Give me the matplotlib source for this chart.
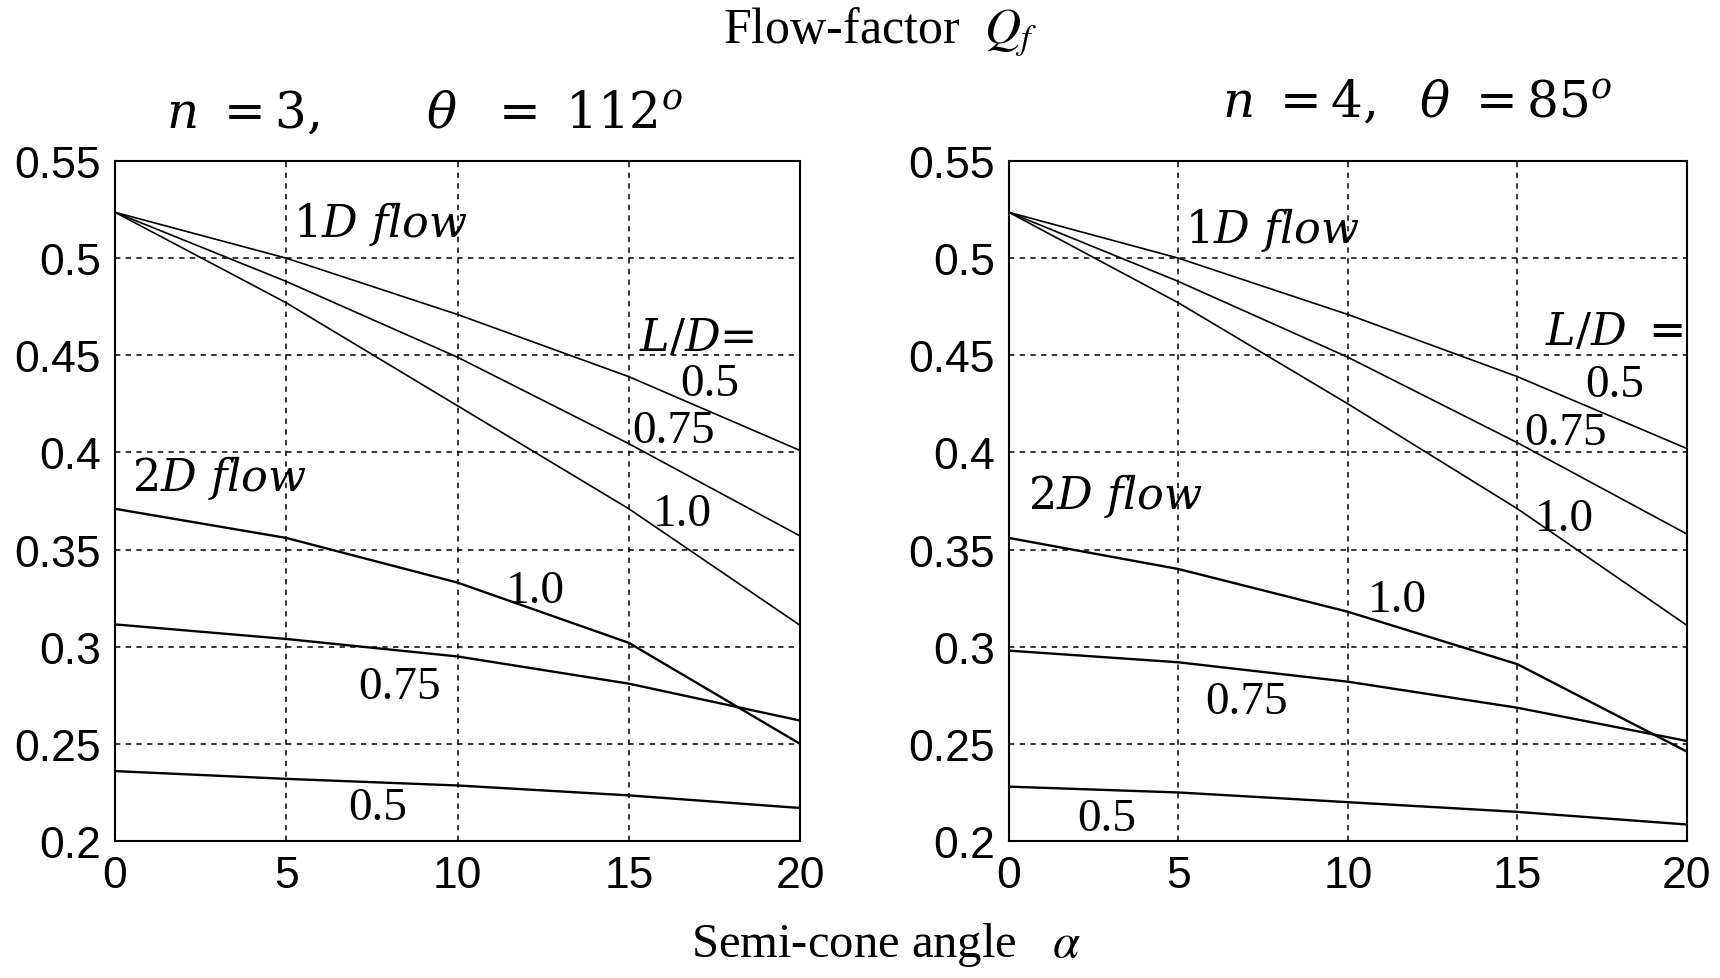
import numpy as np
import matplotlib
matplotlib.use("Agg")
import matplotlib.pyplot as plt
from matplotlib.ticker import FormatStrFormatter

plt.rcParams['mathtext.fontset'] = 'dejavuserif'

# semi-cone angle alpha (deg)
alpha = [0, 5, 10, 15, 20]

# n = 3, theta = 112 deg
left_1d = {
    '0.5':  [0.5236, 0.500, 0.471, 0.439, 0.401],
    '0.75': [0.5236, 0.488, 0.449, 0.4045, 0.357],
    '1.0':  [0.5236, 0.477, 0.424, 0.371, 0.311],
}
left_2d = {
    '1.0':  [0.371, 0.356, 0.333, 0.302, 0.250],
    '0.75': [0.3115, 0.304, 0.295, 0.281, 0.262],
    '0.5':  [0.236, 0.232, 0.2286, 0.2235, 0.217],
}

# n = 4, theta = 85 deg
right_1d = {
    '0.5':  [0.5236, 0.500, 0.471, 0.439, 0.402],
    '0.75': [0.5236, 0.488, 0.449, 0.405, 0.358],
    '1.0':  [0.5236, 0.477, 0.425, 0.371, 0.311],
}
right_2d = {
    '1.0':  [0.356, 0.340, 0.318, 0.291, 0.246],
    '0.75': [0.298, 0.292, 0.282, 0.2686, 0.2515],
    '0.5':  [0.228, 0.225, 0.220, 0.215, 0.2085],
}

yticks = [0.2, 0.25, 0.3, 0.35, 0.4, 0.45, 0.5, 0.55]
xticks = [0, 5, 10, 15, 20]

# text labels: (text, x, y)
left_labels = [
    (r'$1D\ flow$', 5.2, 0.518),
    (r'$2D\ flow$', 0.5, 0.3875),
    (r'$L/D$=', 15.3, 0.459),
]
left_nums = [('0.5', 16.5, 0.4355), ('0.75', 15.1, 0.411), ('1.0', 15.7, 0.3685),
             ('1.0', 11.4, 0.329), ('0.75', 7.1, 0.2795), ('0.5', 6.8, 0.217)]
right_labels = [
    (r'$1D\ flow$', 5.2, 0.515),
    (r'$2D\ flow$', 0.56, 0.378),
    (r'$L/D\ =$', 15.8, 0.4625),
]
right_nums = [('0.5', 17.0, 0.435), ('0.75', 15.2, 0.41), ('1.0', 15.5, 0.366),
              ('1.0', 10.6, 0.324), ('0.75', 5.8, 0.2715), ('0.5', 2.0, 0.2115)]

fig = plt.figure(figsize=(17.2, 9.79), dpi=100)
ax1 = fig.add_axes([0.0669, 0.1399, 0.3983, 0.6946])
ax2 = fig.add_axes([0.5866, 0.1399, 0.3942, 0.6946])

def draw(ax, d1, d2, labels, nums):
    for k, v in d1.items():
        ax.plot(alpha, v, color='black', lw=1.2)
    for k, v in d2.items():
        ax.plot(alpha, v, color='black', lw=1.7)
    ax.set_xlim(0, 20)
    ax.set_ylim(0.2, 0.55)
    ax.set_xticks(xticks)
    ax.set_yticks(yticks)
    ax.yaxis.set_major_formatter(FormatStrFormatter('%g'))
    ax.grid(True, color='black', lw=1.1, linestyle=(0, (3.5, 3.5)))
    for s in ax.spines.values():
        s.set_linewidth(1.5)
    ax.tick_params(length=0, labelsize=32, pad=10)
    for lab in ax.get_xticklabels() + ax.get_yticklabels():
        lab.set_family('Liberation Sans')
    for t, x, y in labels:
        ax.text(x, y, t, fontsize=32, ha='left', va='center')
    for t, x, y in nums:
        ax.text(x, y, t, fontsize=34, family='Liberation Serif', ha='left', va='center')

draw(ax1, left_1d, left_2d, left_labels, left_nums)
draw(ax2, right_1d, right_2d, right_labels, right_nums)

fig.text(0.5116, 0.956, r'Flow-factor  $Q_f$', fontsize=36, family='Liberation Serif',
         math_fontfamily='stix', ha='center', va='baseline')
fig.text(0.2465, 0.869, r'$n\ =3,\quad\quad\theta\ \ =\ 112^o$', fontsize=36,
         ha='center', va='baseline')
fig.text(0.8238, 0.880, r'$n\ =4,\ \ \theta\ =85^o$', fontsize=36,
         ha='center', va='baseline')
fig.text(0.515, 0.0225, r'Semi-cone angle   $\alpha$', fontsize=35, family='Liberation Serif',
         math_fontfamily='stix', ha='center', va='baseline')

plt.savefig('out.png', dpi=100)
